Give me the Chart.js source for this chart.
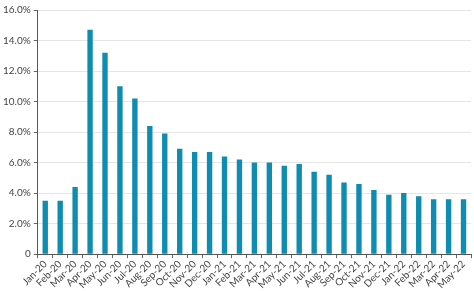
<!DOCTYPE html>
<html>
<head>
<meta charset="utf-8">
<script src="https://cdn.jsdelivr.net/npm/chart.js@4/dist/chart.umd.min.js"></script>
<style>
  html, body { margin: 0; padding: 0; background: #fff; }
  #wrap { width: 474px; height: 291px; }
</style>
</head>
<body>
<div id="wrap"><canvas id="rateChart"></canvas></div>
<script>
const months = [
    'Jan-20', 'Feb-20', 'Mar-20', 'Apr-20', 'May-20', 'Jun-20', 'Jul-20', 'Aug-20', 'Sep-20', 'Oct-20',
    'Nov-20', 'Dec-20', 'Jan-21', 'Feb-21', 'Mar-21', 'Apr-21', 'May-21', 'Jun-21', 'Jul-21', 'Aug-21',
    'Sep-21', 'Oct-21', 'Nov-21', 'Dec-21', 'Jan-22', 'Feb-22', 'Mar-22', 'Apr-22', 'May-22'
];
const rates = [
    3.5, 3.5, 4.4, 14.7, 13.2, 11.0, 10.2, 8.4, 7.9, 6.9,
    6.7, 6.7, 6.4, 6.2, 6.0, 6.0, 5.8, 5.9, 5.4, 5.2,
    4.7, 4.6, 4.2, 3.9, 4.0, 3.8, 3.6, 3.6, 3.6
];
const yMax = 16;
const yStep = 2;

const textColor = '#444';
const fontFamily = 'Lato, "Open Sans", sans-serif';

new Chart(document.getElementById('rateChart'), {
    type: 'bar',
    data: {
        labels: months,
        datasets: [{
            data: rates,
            backgroundColor: '#0f8db0',
            barPercentage: 0.36,
            categoryPercentage: 1
        }]
    },
    options: {
        responsive: true,
        maintainAspectRatio: false,
        animation: false,
        layout: { padding: { top: 10, right: 3, left: 0, bottom: 0 } },
        plugins: {
            legend: { display: false },
            tooltip: { enabled: false }
        },
        scales: {
            x: {
                grid: { drawOnChartArea: false, drawTicks: true, tickLength: 4, color: '#666' },
                border: { color: '#555', width: 1 },
                ticks: {
                    color: textColor,
                    font: { family: fontFamily, size: 10 },
                    maxRotation: 45,
                    minRotation: 45,
                    autoSkip: false,
                    padding: 0
                }
            },
            y: {
                min: 0,
                max: yMax,
                grid: { color: '#e6e6e6', tickLength: 4, tickColor: '#666' },
                border: { color: '#555', width: 1 },
                ticks: {
                    stepSize: yStep,
                    color: textColor,
                    font: { family: fontFamily, size: 10 },
                    padding: 3,
                    callback: v => v === 0 ? '0' : v.toFixed(1) + '%'
                }
            }
        }
    }
});
</script>
</body>
</html>
